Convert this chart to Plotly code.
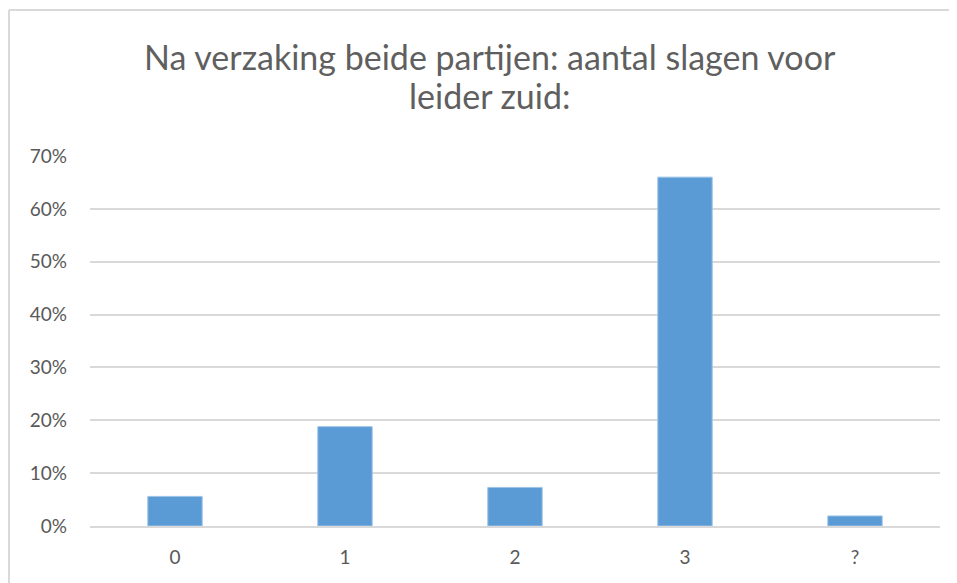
import plotly.graph_objects as go

categories = ["0", "1", "2", "3", "?"]
values = [5.6, 18.8, 7.3, 66.0, 1.9]
y_ticks = [0, 10, 20, 30, 40, 50, 60, 70]
y_labels = [f"{t}%" for t in y_ticks]
title_lines = ["Na verzaking beide partijen: aantal slagen voor", "leider zuid:"]

fig = go.Figure(go.Bar(
    x=categories, y=values,
    marker=dict(color="#5B9BD5", line=dict(color="#9DC3E6", width=1)),
    width=0.32,
))

border = dict(color="#D9D9D9", width=2)
fig.update_layout(
    width=957, height=583,
    paper_bgcolor="white", plot_bgcolor="white",
    margin=dict(l=82, r=25, t=148, b=65),
    font=dict(family="Lato, Open Sans, sans-serif", color="#595959"),
    showlegend=False,
    annotations=[
        dict(text=title_lines[0], xref="paper", yref="paper", x=0.4706, y=1.2676,
             xanchor="center", yanchor="middle", showarrow=False,
             font=dict(size=34, color="#5f5f5f")),
        dict(text=title_lines[1], xref="paper", yref="paper", x=0.4706, y=1.1622,
             xanchor="center", yanchor="middle", showarrow=False,
             font=dict(size=34, color="#5f5f5f")),
    ],
    shapes=[
        dict(type="line", xref="paper", yref="paper",
             x0=-0.0953, x1=-0.0953, y0=-0.3, y1=1.3946, line=border),
        dict(type="line", xref="paper", yref="paper",
             x0=-0.0953, x1=1.3, y0=1.3946, y1=1.3946, line=border),
    ],
)
fig.update_xaxes(
    showgrid=False, showline=True, linecolor="#D9D9D9", linewidth=2,
    tickfont=dict(size=19, color="#595959"), ticks="", ticklen=0,
    ticklabelstandoff=13,
)
fig.update_yaxes(
    range=[0, 70], tickvals=y_ticks, ticktext=y_labels,
    showgrid=True, gridcolor="#D9D9D9", gridwidth=2,
    zeroline=False, showline=False,
    tickfont=dict(size=19, color="#595959"), ticklabelstandoff=22,
)

fig.write_html("out.html")
